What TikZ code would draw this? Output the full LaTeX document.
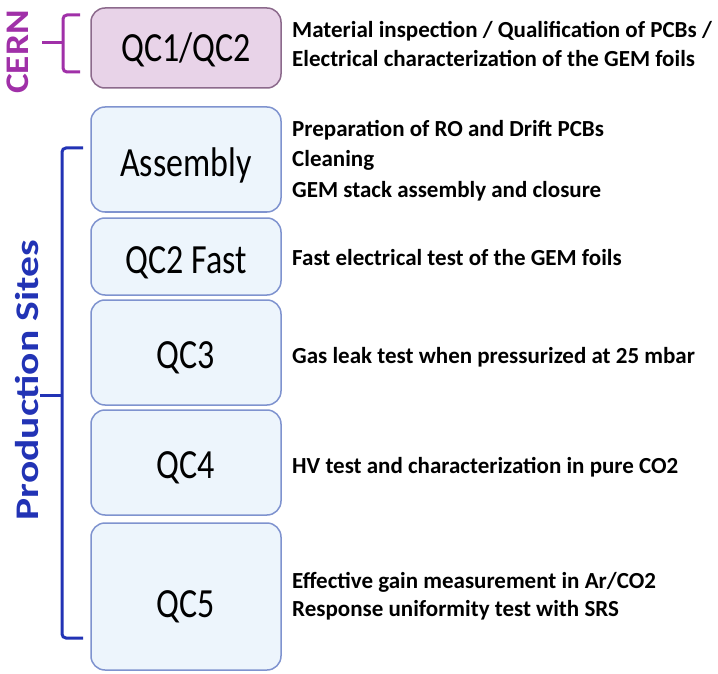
\documentclass[tikz,border=0pt]{standalone}
\usepackage{fontspec}
\usepackage{graphicx}
\setmainfont{Carlito}
\definecolor{cernpurple}{HTML}{A030A8}
\definecolor{prodblue}{HTML}{2233B5}
\definecolor{boxblue}{HTML}{EDF5FC}
\definecolor{boxblueline}{HTML}{7F93CF}
\definecolor{boxpink}{HTML}{E8D3E8}
\definecolor{boxpinkline}{HTML}{8C6A8C}
\begin{document}
\begin{tikzpicture}[x=1pt,y=-1pt,
  qcbox/.style={draw=boxblueline, fill=boxblue, line width=1.5pt, rounded corners=14pt},
  cernbox/.style={draw=boxpinkline, fill=boxpink, line width=1.5pt, rounded corners=14pt},
  boxlabel/.style={anchor=base, inner sep=0pt, font=\fontsize{34}{40}\selectfont},
  desc/.style={anchor=base west, inner sep=0pt, font=\bfseries\fontsize{23}{26}\selectfont},
  bracket/.style={line width=3pt, rounded corners=4pt}]
\useasboundingbox (0,0) rectangle (718,674);
\fill[white] (0,0) rectangle (718,674);
% boxes
\draw[cernbox] (91,8) rectangle (281,88);
\node[boxlabel] (qc1) at (186,62) {\scalebox{1}[1.22]{QC1/QC2}};
\draw[qcbox] (91,107) rectangle (281,212);
\node[boxlabel] (asm) at (186,177) {\scalebox{1}[1.22]{Assembly}};
\draw[qcbox] (91,218) rectangle (281,295);
\node[boxlabel] (qc2f) at (186,273) {\scalebox{1}[1.22]{QC2 Fast}};
\draw[qcbox] (91,300) rectangle (281,405);
\node[boxlabel] (qc3) at (186,368) {\scalebox{1}[1.22]{QC3}};
\draw[qcbox] (91,410) rectangle (281,515);
\node[boxlabel] (qc4) at (186,478) {\scalebox{1}[1.22]{QC4}};
\draw[qcbox] (91,523) rectangle (281,670);
\node[boxlabel] (qc5) at (186,617) {\scalebox{1}[1.22]{QC5}};
% descriptions
\node[desc] (d1) at (292,38) {Material inspection / Qualification of PCBs /};
\node[desc] (d2) at (292,67) {Electrical characterization of the GEM foils};
\node[desc] (d3) at (292,137) {Preparation of RO and Drift PCBs};
\node[desc] (d4) at (292,167) {Cleaning};
\node[desc] (d5) at (292,197) {GEM stack assembly and closure};
\node[desc] (d6) at (292,265) {Fast electrical test of the GEM foils};
\node[desc] (d7) at (292,363) {Gas leak test when pressurized at 25 mbar};
\node[desc] (d8) at (292,473) {HV test and characterization in pure CO2};
\node[desc] (d9) at (292,588) {Effective gain measurement in Ar/CO2};
\node[desc] (d10) at (292,616) {Response uniformity test with SRS};
% CERN bracket
\draw[bracket, cernpurple] (80,15) -- (63,15) -- (63,72) -- (80,72);
\draw[bracket, cernpurple, rounded corners=0pt] (63,43) -- (42,43);
\node[rotate=90, text=cernpurple, font=\bfseries\fontsize{33}{36}\selectfont, inner sep=0pt] (cern) at (18,52) {\scalebox{1.13}[1]{CERN}};
% Production bracket
\draw[bracket, prodblue] (83,148) -- (62,148) -- (62,638) -- (83,638);
\draw[bracket, prodblue, rounded corners=0pt] (62,395) -- (40,395);
\node[rotate=90, text=prodblue, font=\bfseries\fontsize{33}{36}\selectfont, inner sep=0pt] (prod) at (27,380) {\scalebox{1.26}[1]{Production Sites}};
\end{tikzpicture}
\end{document}
